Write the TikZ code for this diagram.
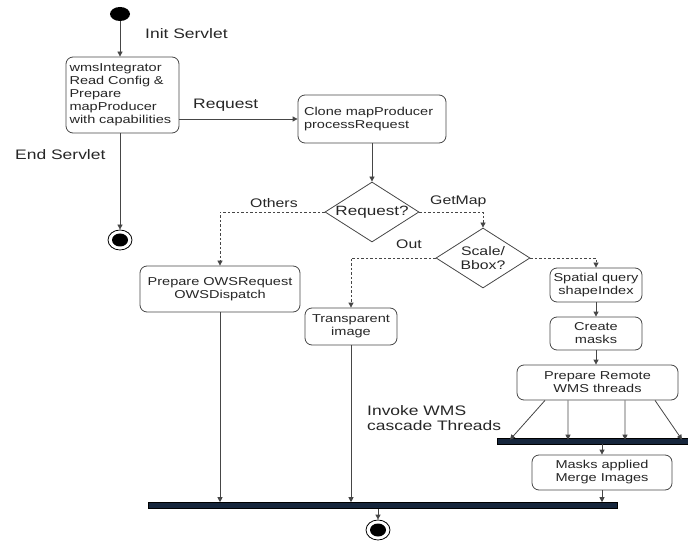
\documentclass[tikz,border=0pt]{standalone}
\usepackage{fontspec}
\setmainfont[FakeStretch=1.27]{Liberation Sans}
\usetikzlibrary{arrows.meta,shapes.geometric,positioning}
\definecolor{linegray}{RGB}{70,70,70}
\definecolor{barnavy}{RGB}{22,38,60}
\begin{document}
\begin{tikzpicture}[x=1bp,y=-1bp,
  every node/.style={text=black!85},
  arr/.style={draw=linegray,line width=0.8bp,-{Triangle[length=5bp,width=5bp]}},
  dasharr/.style={arr,dash pattern=on 2.5bp off 2bp},
  act/.style={draw=linegray,line width=0.8bp,rounded corners=7bp,align=center,
    font=\fontsize{11.5}{13}\selectfont,inner sep=0pt},
  dec/.style={diamond,draw=linegray,line width=0.8bp,inner sep=0pt,
    minimum width=94bp,minimum height=60bp},
  lab/.style={font=\fontsize{13.8}{15.5}\selectfont,inner sep=0pt,align=left},
  small/.style={font=\fontsize{12.5}{14}\selectfont,inner sep=0pt},
  bar/.style={draw=black,fill=barnavy,line width=0.6bp,inner sep=0pt,minimum height=6bp},
  start/.style={ellipse,fill=black,inner sep=0pt,minimum width=20bp,minimum height=14bp},
  fin/.style={ellipse,draw=black,line width=0.8bp,inner sep=0pt,minimum width=24bp,minimum height=20bp,
    path picture={\fill[black] (path picture bounding box.center) ellipse (8bp and 6.5bp);}}
]
\useasboundingbox (0,0) rectangle (688,542);

% nodes
\node[start] (init) at (120,14) {};
\node[act,minimum width=113bp,minimum height=76bp,align=left,text width=106bp] (wms) at (122.5,95)
  {wmsIntegrator\\Read Config \&\\Prepare\\mapProducer\\with capabilities};
\node[act,minimum width=148bp,minimum height=48bp,align=left,text width=136bp] (clone) at (372,119)
  {Clone mapProducer\\processRequest};
\node[fin] (fin1) at (120,240) {};
\node[dec,label={[font=\fontsize{13.5}{15}\selectfont,text=black!85]center:Request?}] (d1) at (372,212) {};
\node[dec,label={[font=\fontsize{12.5}{14}\selectfont,align=center,text=black!85]center:Scale/\\Bbox?}] (d2) at (483,258) {};
\node[act,minimum width=160bp,minimum height=46bp] (ows) at (220,289) {Prepare OWSRequest\\OWSDispatch};
\node[act,minimum width=92bp,minimum height=37bp] (trans) at (351,326.5) {Transparent\\image};
\node[act,minimum width=92bp,minimum height=34bp] (spatial) at (596,285) {Spatial query\\shapeIndex};
\node[act,minimum width=92bp,minimum height=33bp] (masks) at (596,333.5) {Create\\masks};
\node[act,minimum width=161bp,minimum height=35bp] (remote) at (597.5,382.5) {Prepare Remote\\WMS threads};
\node[bar,minimum width=191bp] (fork1) at (592.5,441) {};
\node[act,minimum width=140bp,minimum height=35bp] (merge) at (602,472.5) {Masks applied\\Merge Images};
\node[bar,minimum width=469bp] (fork2) at (382.5,505.5) {};
\node[fin] (fin2) at (378,530) {};

% labels
\node[lab,anchor=west] (linit) at (145,34) {Init Servlet};
\node[lab,anchor=west] (lreq) at (193,105) {Request};
\node[lab,anchor=west] (lend) at (15,155) {End Servlet};
\node[small,anchor=west] (loth) at (250,203) {Others};
\node[small,anchor=west] (lget) at (430,201) {GetMap};
\node[small,anchor=west] (lout) at (396,244) {Out};
\node[lab,anchor=west] (linv) at (367,418) {Invoke WMS\\cascade Threads};

% connectors
\draw[arr] (init) -- (init |- wms.north);
\draw[arr] (clone.west -| wms.east) -- (clone.west);
\draw[arr] (wms.south -| fin1) -- (fin1);
\draw[arr] (clone.south -| d1) -- (d1.north);
\draw[dasharr] (d1.west) -| (ows.north);
\draw[dasharr] (d1.east) -| (d2.north);
\draw[dasharr] (d2.west) -| (trans.north);
\draw[dasharr] (d2.east) -| (spatial.north);
\draw[arr] (spatial) -- (masks);
\draw[arr] (masks) -- (masks |- remote.north);
\draw[arr] ([xshift=-52.5bp]remote.south) -- ([xshift=-82.5bp,yshift=-2bp]fork1.north);
\draw[arr] ([xshift=-29.5bp]remote.south) -- ([xshift=-24.5bp,yshift=-2bp]fork1.north);
\draw[arr] ([xshift=27.5bp]remote.south) -- ([xshift=32.5bp,yshift=-2bp]fork1.north);
\draw[arr] ([xshift=57.5bp]remote.south) -- ([xshift=89.5bp,yshift=-2bp]fork1.north);
\draw[arr] (fork1.south -| merge.north) -- (merge.north);
\draw[arr] (merge.south) -- (fork2.north -| merge.south);
\draw[arr] (ows.south) -- (fork2.north -| ows.south);
\draw[arr] (trans.south) -- (fork2.north -| trans.south);
\draw[arr] (fork2.south -| fin2) -- (fin2);
\end{tikzpicture}
\end{document}
